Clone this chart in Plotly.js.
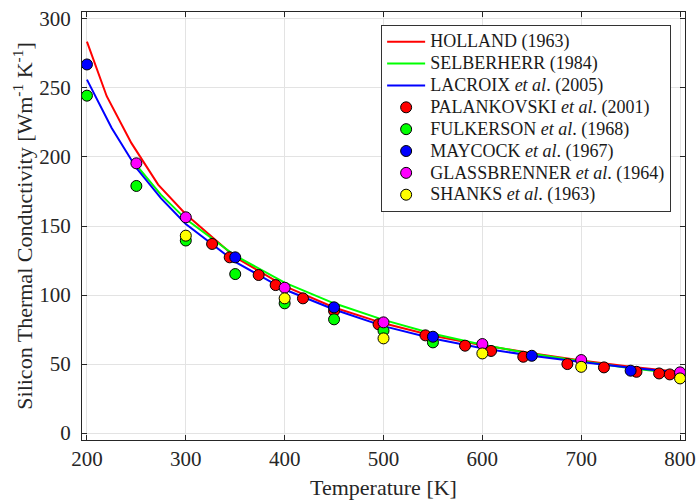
<!DOCTYPE html>
<html>
<head>
<meta charset="utf-8">
<script src="https://cdn.plot.ly/plotly-3.0.1.min.js"></script>
<style>html,body{margin:0;padding:0;background:#fff;}#chart{width:697px;height:502px;}</style>
</head>
<body>
<div id="chart"></div>
<script>
// Model curves
const hollandT = [200, 220, 245, 272, 300, 350, 400, 450, 500, 550, 600, 650, 700, 750, 800];
const hollandK = [283.6, 244, 210, 180, 158.5, 127.5, 106.5, 91, 79.5, 70.5, 63.7, 57.8, 52.6, 48, 44.3];

const selberherrT = [250, 275, 300, 350, 400, 450, 500, 550, 600, 650, 700, 750, 800];
const selberherrK = [194, 172.5, 155, 128.5, 109, 94, 82, 72, 64, 57.5, 52, 47, 43];

const lacroixT = [200, 225, 250, 275, 300, 350, 400, 450, 500, 550, 600, 650, 700, 750, 800];
const lacroixK = [256, 221, 192, 170, 151.5, 124, 104, 89.5, 77.5, 68.5, 61.5, 56, 51.5, 47.3, 43.8];

// Measured data
const palankovskiT = [326.6, 344.4, 373.7, 390.9, 418.5, 450, 495, 542.4, 582.5, 608.8, 641.4, 686, 723, 755.9, 778.8, 789.6];
const palankovskiK = [137, 127.3, 114.5, 107.2, 97.6, 88.5, 78.8, 70.8, 63.3, 59.5, 55.3, 50, 47.6, 44.4, 43.2, 42.5];

const fulkersonT = [200, 250, 300, 350, 400, 450, 500, 550];
const fulkersonK = [244.4, 179, 139.5, 115.2, 94, 82.4, 74.2, 65.7];

const maycockT = [200, 350, 450, 550, 650, 750];
const maycockK = [267, 127.3, 91.1, 69.8, 56, 45.2];

const glassbrennerT = [250, 300, 400, 500, 600, 700, 800];
const glassbrennerK = [195.4, 156.3, 105.3, 80.2, 64.5, 52.9, 44];

const shanksT = [300, 400, 500, 600, 700, 800];
const shanksK = [143, 97.6, 68.6, 57.7, 48, 39.6];

const xTicks = [200, 300, 400, 500, 600, 700, 800];
const yTicks = [0, 50, 100, 150, 200, 250, 300];

const serif = 'Liberation Serif';

function lineTrace(x, y, color, name) {
  return {x: x, y: y, type: 'scatter', mode: 'lines', name: name,
    line: {color: color, width: 2}};
}
function ptTrace(x, y, color, name) {
  return {x: x, y: y, type: 'scatter', mode: 'markers', name: name,
    marker: {color: color, size: 11, line: {color: '#000', width: 1}}};
}
function lg(s) { return '<span style="font-size:18px">' + s + '</span>'; }

const traces = [
  lineTrace(hollandT, hollandK, '#ff0000', lg('HOLLAND (1963)')),
  lineTrace(selberherrT, selberherrK, '#00ff00', lg('SELBERHERR (1984)')),
  lineTrace(lacroixT, lacroixK, '#0000ff', lg('LACROIX <i>et al</i>. (2005)')),
  ptTrace(palankovskiT, palankovskiK, '#ff0000', lg('PALANKOVSKI <i>et al</i>. (2001)')),
  ptTrace(fulkersonT, fulkersonK, '#00ff00', lg('FULKERSON <i>et al</i>. (1968)')),
  ptTrace(maycockT, maycockK, '#0000ff', lg('MAYCOCK <i>et al</i>. (1967)')),
  ptTrace(glassbrennerT, glassbrennerK, '#ff00ff', lg('GLASSBRENNER <i>et al</i>. (1964)')),
  ptTrace(shanksT, shanksK, '#ffff00', lg('SHANKS <i>et al</i>. (1963)'))
];

const layout = {
  width: 697, height: 502,
  margin: {l: 82, r: 12, t: 12, b: 62},
  paper_bgcolor: '#fff', plot_bgcolor: '#fff',
  font: {family: serif, size: 21, color: '#262626'},
  showlegend: true,
  legend: {
    x: 0.977, y: 0.970, xanchor: 'right', yanchor: 'top',
    bgcolor: '#fff', bordercolor: '#333', borderwidth: 1,
    font: {family: serif, size: 14.5, color: '#1a1a1a'},
    itemwidth: 38,
    tracegroupgap: 0
  },
  xaxis: {
    range: [195, 805], tickvals: xTicks, ticktext: xTicks.map(String),
    ticks: 'inside', ticklen: 5, tickcolor: '#262626', mirror: 'ticks',
    showline: true, linecolor: '#262626', linewidth: 1,
    showgrid: true, gridcolor: '#e3e3e3', gridwidth: 1, zeroline: false,
    tickfont: {family: serif, size: 21, color: '#262626'},
    title: {text: 'Temperature [K]', font: {family: serif, size: 22, color: '#262626'}, standoff: 9}
  },
  yaxis: {
    range: [-5, 305], tickvals: yTicks, ticktext: yTicks.map(String),
    ticks: 'inside', ticklen: 5, tickcolor: '#262626', mirror: 'ticks',
    showline: true, linecolor: '#262626', linewidth: 1,
    showgrid: true, gridcolor: '#e3e3e3', gridwidth: 1, zeroline: false,
    ticklabelstandoff: 6,
    tickfont: {family: serif, size: 21, color: '#262626'},
    title: {text: 'Silicon Thermal Conductivity [Wm<sup>-1</sup> K<sup>-1</sup>]', font: {family: serif, size: 22, color: '#262626'}, standoff: 0}
  }
};

Plotly.newPlot('chart', traces, layout, {displayModeBar: false, staticPlot: true});
</script>
</body>
</html>
